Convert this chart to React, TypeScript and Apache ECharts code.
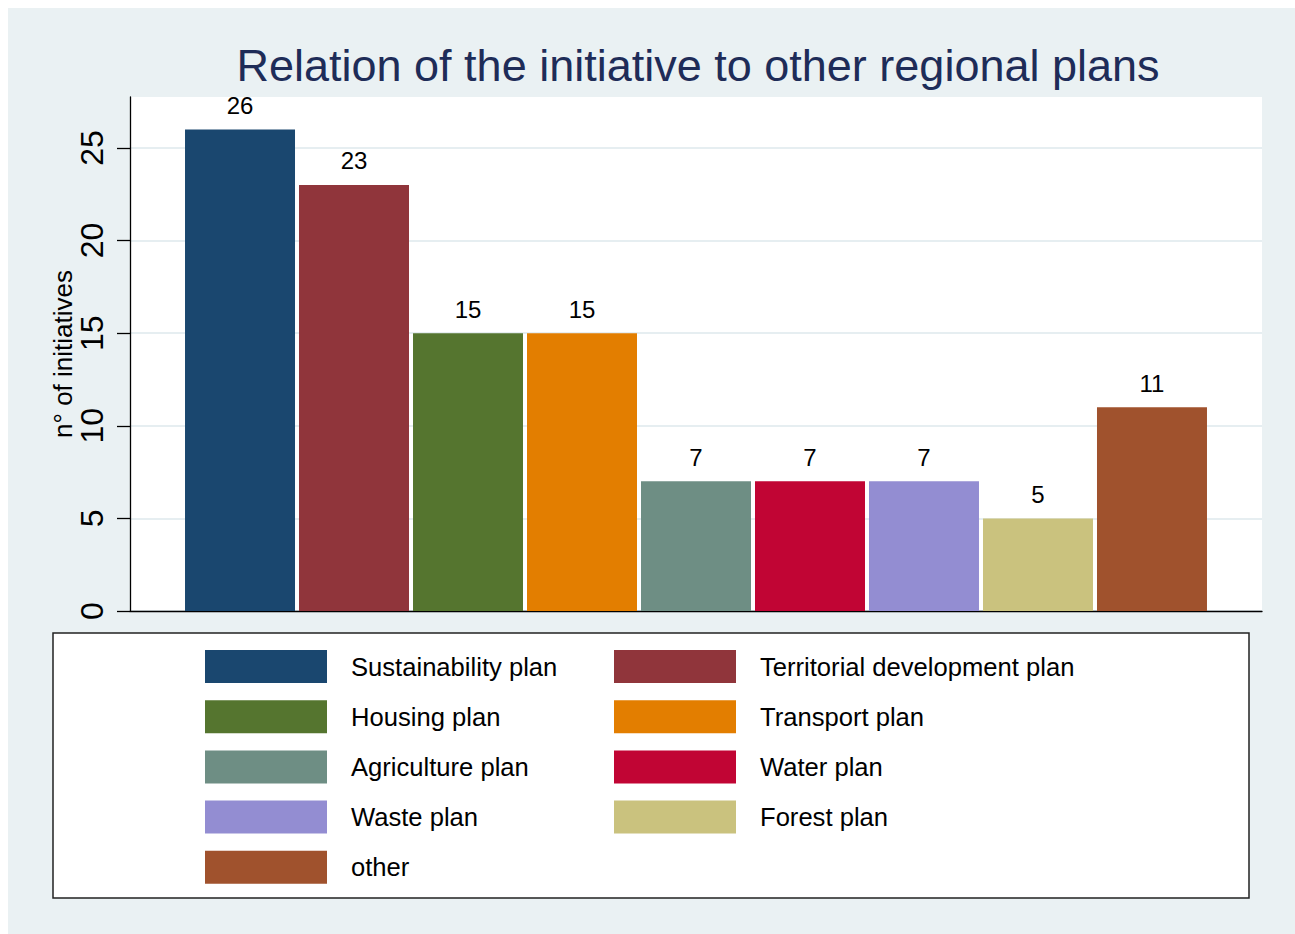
import React, { useEffect, useRef } from "react";
import * as echarts from "echarts";

const titleText = "Relation of the initiative to other regional plans";
const yAxisName = "n° of initiatives";
const categories = [
  "Sustainability plan",
  "Territorial development plan",
  "Housing plan",
  "Transport plan",
  "Agriculture plan",
  "Water plan",
  "Waste plan",
  "Forest plan",
  "other",
];
const values = [26, 23, 15, 15, 7, 7, 7, 5, 11];
const colors = [
  "#1A476F",
  "#90353B",
  "#55752F",
  "#E37E00",
  "#6E8E84",
  "#C10534",
  "#938DD2",
  "#CAC27E",
  "#A0522D",
];
const yTicks = [0, 5, 10, 15, 20, 25];
const yMax = 27.75;

const FONT = "'Liberation Sans', Arial, Helvetica, sans-serif";

export default function App() {
  const ref = useRef<HTMLDivElement>(null);

  useEffect(() => {
    document.body.style.overflow = "hidden";
    const chart = echarts.init(ref.current!, null, { renderer: "svg" });
    const leftCol = categories.filter((_, i) => i % 2 === 0);
    const rightCol = categories.filter((_, i) => i % 2 === 1);
    const legendCommon = {
      orient: "vertical",
      itemWidth: 122,
      itemHeight: 33,
      itemGap: 17.2,
      icon: "rect",
      selectedMode: false,
      z: 5,
      textStyle: {
        fontSize: 25.6,
        color: "#000",
        fontFamily: FONT,
        padding: [0, 0, 0, 19],
      },
    };
    chart.setOption({
      animation: false,
      backgroundColor: "#EAF1F3",
      textStyle: { fontFamily: FONT },
      title: {
        text: titleText,
        left: 685,
        top: 30,
        textAlign: "center",
        textStyle: {
          fontSize: 45,
          fontWeight: "normal",
          color: "#1E2C58",
          fontFamily: FONT,
        },
      },
      grid: {
        left: 122,
        right: 33,
        top: 89,
        bottom: 323,
        show: true,
        backgroundColor: "#FFFFFF",
        borderWidth: 0,
      },
      xAxis: {
        type: "category",
        data: [""],
        axisLine: { show: true, lineStyle: { color: "#000", width: 1.3 } },
        axisTick: { show: false },
        axisLabel: { show: false },
        splitLine: { show: false },
      },
      yAxis: {
        type: "value",
        min: 0,
        max: yMax,
        interval: 5,
        name: yAxisName,
        nameLocation: "middle",
        nameRotate: 90,
        nameGap: 54,
        nameMoveOverlap: false,
        nameTextStyle: { fontSize: 26, color: "#000", fontFamily: FONT },
        axisLine: { show: true, lineStyle: { color: "#000", width: 1.3 } },
        axisTick: {
          show: true,
          length: 13,
          lineStyle: { color: "#000", width: 1.3 },
          customValues: yTicks,
        },
        axisLabel: {
          rotate: 90,
          fontSize: 32,
          color: "#000",
          margin: 22,
          fontFamily: FONT,
          customValues: yTicks,
        },
        splitLine: {
          show: true,
          lineStyle: { color: "#E6EEF1", width: 2 },
        },
      },
      legend: [
        { ...legendCommon, data: leftCol, left: 192, top: 637 },
        { ...legendCommon, data: rightCol, left: 601, top: 637 },
      ],
      graphic: [
        {
          type: "rect",
          z: 0,
          shape: { x: 45, y: 625, width: 1196, height: 265 },
          style: { fill: "#FFFFFF", stroke: "#222", lineWidth: 1.5 },
        },
      ],
      series: categories.map((name, i) => ({
        type: "bar",
        name,
        data: [values[i]],
        barCategoryGap: "9.72%",
        barGap: "3.64%",
        itemStyle: { color: colors[i] },
        label: {
          show: true,
          position: "top",
          distance: 12,
          fontSize: 24,
          color: "#000",
          fontFamily: FONT,
        },
      })),
    });
    return () => chart.dispose();
  }, []);

  return (
    <div
      ref={ref}
      style={{ position: "absolute", left: 8, top: 8, width: 1287, height: 926 }}
    />
  );
}
